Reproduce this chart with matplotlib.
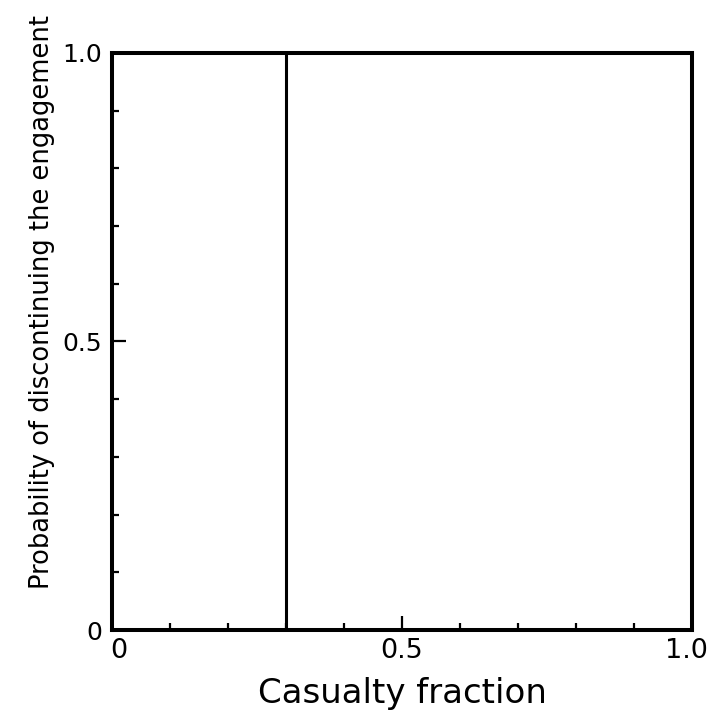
import matplotlib
matplotlib.use("Agg")
import matplotlib.pyplot as plt
from matplotlib.ticker import MultipleLocator, FixedLocator
from matplotlib.transforms import ScaledTranslation

# Axis ranges and labelled ticks
x_range = [0.0, 1.0]
y_range = [0.0, 1.0]
x_major = [0.0, 0.5, 1.0]
x_major_labels = ["0", "0.5", "1.0"]
y_major = [0.0, 0.5, 1.0]
y_major_labels = ["0", "0.5", "1.0"]
minor_step = 0.1

# Casualty threshold at which the engagement is broken off
threshold = 0.3

x_label = "Casualty fraction"
y_label = "Probability of discontinuing the engagement"

plt.rcParams['font.family'] = ['DejaVu Sans']

fig = plt.figure(figsize=(7.09, 7.25), dpi=100)
ax = fig.add_axes([0.158, 0.131, 0.818, 0.796])

ax.axvline(threshold, color="black", lw=2.2)

ax.set_xlim(*x_range)
ax.set_ylim(*y_range)

ax.xaxis.set_major_locator(FixedLocator(x_major))
ax.set_xticklabels(x_major_labels)
ax.yaxis.set_major_locator(FixedLocator(y_major))
ax.set_yticklabels(y_major_labels)
ax.xaxis.set_minor_locator(MultipleLocator(minor_step))
ax.yaxis.set_minor_locator(MultipleLocator(minor_step))

for s in ax.spines.values():
    s.set_linewidth(2.9)

ax.tick_params(which="both", direction="in", top=False, right=False, width=1.6)
ax.tick_params(which="major", length=10)
ax.tick_params(which="minor", length=5)
ax.tick_params(axis="x", which="major", labelsize=19.5, pad=6)
ax.tick_params(axis="y", which="major", labelsize=18, pad=7)

# nudge the end x tick labels: first one right, last one in from the edge
first = ax.get_xticklabels()[0]
first.set_transform(first.get_transform()
                    + ScaledTranslation(5 / 72, 0, fig.dpi_scale_trans))
last = ax.get_xticklabels()[-1]
last.set_transform(last.get_transform()
                   + ScaledTranslation(-4 / 72, 0, fig.dpi_scale_trans))

ax.set_xlabel(x_label, fontsize=24.5, labelpad=9)
ax.set_ylabel(y_label, fontsize=18.5)
ax.yaxis.set_label_coords(-0.098, 0.568)

fig.savefig("out.png", dpi=100, facecolor="white")
